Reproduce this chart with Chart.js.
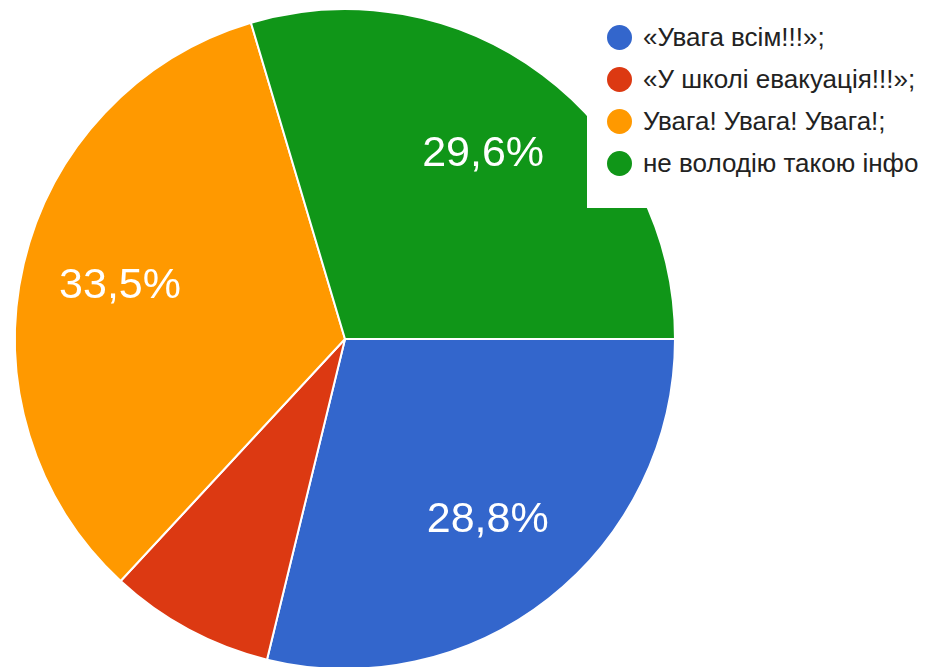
<!DOCTYPE html>
<html>
<head>
<meta charset="utf-8">
<script src="https://cdn.jsdelivr.net/npm/chart.js@4"></script>
<style>
  html, body { margin: 0; padding: 0; background: #fff; overflow: hidden; }
  #wrap { position: relative; width: 927px; height: 678px; }
  #legend {
    position: absolute; left: 587px; top: 0; width: 340px; height: 208px;
    background: #fff; overflow: hidden;
    font-family: "Liberation Sans", Arial, sans-serif; font-size: 26px; color: #222;
  }
  #legend .item { position: absolute; left: 20px; height: 30px; line-height: 30px; white-space: nowrap; }
  #legend .dot { position: absolute; left: 0; top: 3px; width: 25px; height: 25px; border-radius: 50%; }
  #legend .txt { position: absolute; left: 36px; top: 0; }
</style>
</head>
<body>
<div id="wrap">
  <canvas id="chart_pie"></canvas>
  <div id="legend"></div>
</div>
<script>
var categories = ['«Увага всім!!!»;', '«У школі евакуація!!!»;', 'Увага! Увага! Увага!;', 'не володію такою інфо'];
var shares = [28.8, 8.1, 33.5, 29.6];
var sliceColors = ['#3366CC', '#DC3912', '#FF9900', '#109618'];

// percentage labels inside the slices (small slices get none)
var sliceLabels = {
    id: 'sliceLabels',
    afterDatasetsDraw: function (chart) {
        var ctx = chart.ctx;
        var meta = chart.getDatasetMeta(0);
        ctx.save();
        ctx.fillStyle = '#ffffff';
        ctx.font = '43px "Liberation Sans", Arial, sans-serif';
        ctx.textAlign = 'center';
        ctx.textBaseline = 'middle';
        meta.data.forEach(function (arc, i) {
            if (shares[i] < 10) return;
            var p = arc.getProps(['x', 'y', 'startAngle', 'endAngle', 'outerRadius'], true);
            var mid = (p.startAngle + p.endAngle) / 2;
            var r = p.outerRadius * 0.7;
            ctx.fillText(shares[i].toFixed(1).replace('.', ',') + '%', p.x + Math.cos(mid) * r, p.y + Math.sin(mid) * r);
        });
        ctx.restore();
    }
};

var chart_pie = new Chart(document.getElementById('chart_pie'), {
    type: 'pie',
    data: {
        labels: categories,
        datasets: [{
            data: shares,
            backgroundColor: sliceColors,
            borderColor: '#ffffff',
            borderWidth: 2
        }]
    },
    options: {
        animation: false,
        responsive: true,
        maintainAspectRatio: false,
        rotation: 90,
        layout: { padding: { left: 14, right: 251, top: 8, bottom: 8 } },
        plugins: {
            legend: { display: false },
            tooltip: { enabled: false }
        }
    },
    plugins: [sliceLabels]
});

var legendEl = document.getElementById('legend');
var legendTops = [22, 64, 106, 148];
categories.forEach(function (name, i) {
    var item = document.createElement('div');
    item.className = 'item';
    item.style.top = legendTops[i] + 'px';
    var dot = document.createElement('span');
    dot.className = 'dot';
    dot.style.background = sliceColors[i];
    var txt = document.createElement('span');
    txt.className = 'txt';
    txt.textContent = name;
    item.appendChild(dot);
    item.appendChild(txt);
    legendEl.appendChild(item);
});
</script>
</body>
</html>
